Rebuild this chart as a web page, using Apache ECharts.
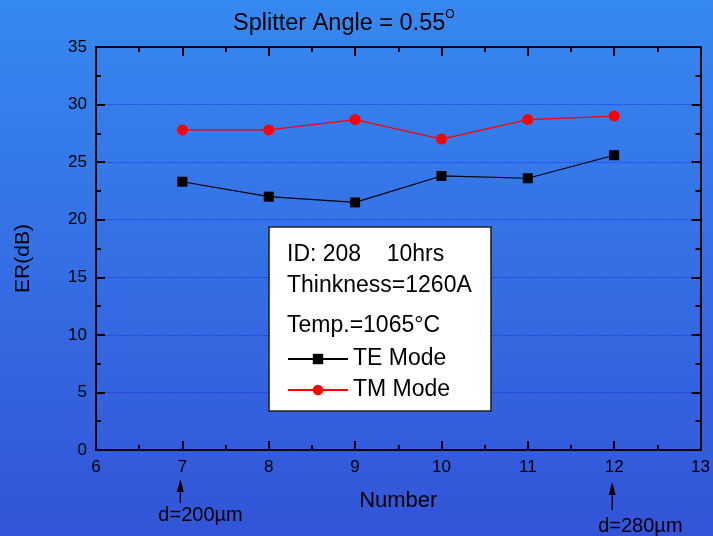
<!DOCTYPE html>
<html><head><meta charset="utf-8">
<script src="https://cdn.jsdelivr.net/npm/echarts@6/dist/echarts.min.js"></script>
<style>html,body{margin:0;padding:0;}#c{width:713px;height:536px;}</style>
</head><body><div id="c"></div>
<script>
// ---- data ----
const numbers = [7, 8, 9, 10, 11, 12];
const teMode = [23.3, 22.0, 21.5, 23.8, 23.6, 25.6];
const tmMode = [27.8, 27.8, 28.7, 27.0, 28.7, 29.0];
const seriesNames = ['TE Mode', 'TM Mode'];
const titleMain = 'Splitter Angle = 0.55';
const titleSup = 'O';
const infoLines = ['ID: 208    10hrs', 'Thinkness=1260A', 'Temp.=1065°C'];
const annotationX = [7, 12];
const annotationText = ['d=200µm', 'd=280µm'];

// ---- layout / style ----
const FONT = '"Liberation Sans", Arial, sans-serif';
const annLayout = [
  { tip: 479, base: 492, tail: 503, textY: 515, dx: -22 },
  { tip: 482, base: 495, tail: 510, textY: 526, dx: -14 }
];
const infoY = [255, 286, 326];

const chart = echarts.init(document.getElementById('c'), null, { renderer: 'canvas' });

function axisCommon(showLabel) {
  return {
    axisLine: { show: true, onZero: false, lineStyle: { color: '#000', width: 2 } },
    axisTick: { show: true, inside: true, length: 9, lineStyle: { color: '#000', width: 2 } },
    minorTick: { show: true, splitNumber: 2, length: 5, lineStyle: { color: '#000', width: 2 } },
    axisLabel: { show: showLabel, fontFamily: FONT, fontSize: 17, color: '#000', margin: 9 },
    splitLine: { show: false }
  };
}

const option = {
  animation: false,
  backgroundColor: {
    type: 'linear', x: 0, y: 0, x2: 0, y2: 1,
    colorStops: [{ offset: 0, color: '#3689f0' }, { offset: 1, color: '#3354d8' }]
  },
  title: {
    text: '{a|' + titleMain + '}{s|' + titleSup + '}',
    left: 233, top: 9, padding: 0,
    textStyle: {
      fontWeight: 'normal',
      rich: {
        a: { fontFamily: FONT, fontSize: 23.5, fontWeight: 'normal', color: '#000', lineHeight: 30 },
        s: { fontFamily: FONT, fontSize: 12, fontWeight: 'normal', color: '#000', verticalAlign: 'top', lineHeight: 12 }
      }
    }
  },
  grid: { left: 96, right: 10, top: 47, bottom: 86 },
  xAxis: [
    Object.assign({
      type: 'value', min: 6, max: 13, interval: 1, position: 'bottom',
      name: 'Number', nameLocation: 'middle', nameGap: 40,
      nameTextStyle: { fontFamily: FONT, fontSize: 22, color: '#000' }
    }, axisCommon(true)),
    Object.assign({ type: 'value', min: 6, max: 13, interval: 1, position: 'top' }, axisCommon(false))
  ],
  yAxis: [
    Object.assign({
      type: 'value', min: 0, max: 35, interval: 5, position: 'left',
      name: 'ER(dB)', nameLocation: 'middle', nameGap: 62,
      nameTextStyle: { fontFamily: FONT, fontSize: 21, color: '#000', padding: [0, 20, 0, 0] }
    }, axisCommon(true), {
      splitLine: { show: true, lineStyle: { color: '#2233ff', type: 'dotted', width: 1.2 } }
    }),
    Object.assign({ type: 'value', min: 0, max: 35, interval: 5, position: 'right' }, axisCommon(false))
  ],
  legend: {
    data: seriesNames,
    orient: 'vertical',
    left: 287, top: 347, padding: 0,
    itemWidth: 60, itemHeight: 13, itemGap: 7,
    selectedMode: false,
    z: 10,
    textStyle: { fontFamily: FONT, fontSize: 23, color: '#000', lineHeight: 24 }
  },
  series: [
    {
      name: seriesNames[0], type: 'line', xAxisIndex: 0, yAxisIndex: 0,
      data: numbers.map((x, i) => [x, teMode[i]]),
      symbol: 'rect', symbolSize: 10,
      itemStyle: { color: '#000' },
      lineStyle: { color: '#000', width: 1.2 }
    },
    {
      name: seriesNames[1], type: 'line', xAxisIndex: 0, yAxisIndex: 0,
      data: numbers.map((x, i) => [x, tmMode[i]]),
      symbol: 'circle', symbolSize: 11,
      itemStyle: { color: '#ff0000' },
      lineStyle: { color: '#ff0000', width: 1.2 }
    }
  ]
};
chart.setOption(option);

// graphics: info box + arrows (positioned via axis scale)
const graphics = [
  {
    type: 'rect', z: 5,
    shape: { x: 269, y: 227, width: 222, height: 184 },
    style: { fill: '#fff', stroke: '#222', lineWidth: 1.6 }
  }
];
infoLines.forEach((t, i) => {
  graphics.push({
    type: 'text', z: 6, x: 287, y: infoY[i],
    style: { text: t, fontFamily: FONT, fontSize: 23, fill: '#000', textAlign: 'left', textVerticalAlign: 'middle' }
  });
});
annotationX.forEach((v, i) => {
  const px = chart.convertToPixel({ xAxisIndex: 0 }, v) - 2;
  const L = annLayout[i];
  graphics.push({
    type: 'line', z: 6,
    shape: { x1: px, y1: L.base, x2: px, y2: L.tail },
    style: { stroke: '#000', lineWidth: 1.3 }
  });
  graphics.push({
    type: 'polygon', z: 6,
    shape: { points: [[px, L.tip], [px - 3.5, L.base], [px + 3.5, L.base]] },
    style: { fill: '#000' }
  });
  graphics.push({
    type: 'text', z: 6, x: px + L.dx, y: L.textY,
    style: { text: annotationText[i], fontFamily: FONT, fontSize: 20, fill: '#000', textAlign: 'left', textVerticalAlign: 'middle' }
  });
});
chart.setOption({ graphic: graphics });
</script>
</body></html>
